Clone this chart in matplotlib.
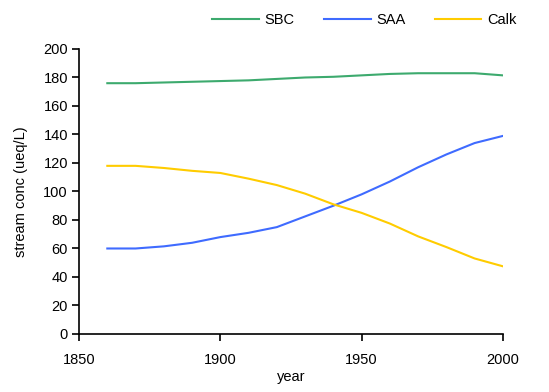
import matplotlib
matplotlib.use("Agg")
import matplotlib.pyplot as plt

years = [1860, 1870, 1880, 1890, 1900, 1910, 1920, 1930, 1940, 1950, 1960, 1970, 1980, 1990, 2000]
sbc = [176, 176, 176.5, 177, 177.5, 178, 179, 180, 180.5, 181.5, 182.5, 183, 183, 183, 181.5]
saa = [60, 60, 61.5, 64, 68, 71, 75, 82.5, 90, 98, 107, 117, 126, 134, 139]
calk = [118, 118, 116.5, 114.5, 113, 109, 104.5, 98.5, 91, 85, 77.5, 68.5, 61, 53, 47.5]

plt.rcParams['font.family'] = ['Liberation Sans', 'DejaVu Sans']

fig = plt.figure(figsize=(5.49, 3.92), dpi=100)
ax = fig.add_axes([0.144, 0.148, 0.772, 0.727])

ax.plot(years, sbc, color='#3DAA6E', lw=1.5, label='SBC')
ax.plot(years, saa, color='#3F6BFF', lw=1.5, label='SAA')
ax.plot(years, calk, color='#FFCC00', lw=1.5, label='Calk')

ax.set_xlim(1850, 2000)
ax.set_ylim(0, 200)
ax.set_xticks([1850, 1900, 1950, 2000])
ax.set_yticks(range(0, 201, 20))
for s in ['top', 'right']:
    ax.spines[s].set_visible(False)
for s in ['left', 'bottom']:
    ax.spines[s].set_linewidth(1.2)
ax.tick_params(direction='out', length=5, width=1.2, labelsize=10.5, pad=3)
ax.tick_params(axis='x', pad=9)
ax.set_xlabel('year', fontsize=10.5, labelpad=2)
ax.set_ylabel('stream conc (ueq/L)', fontsize=10.5, labelpad=11)

fig.legend(loc='upper right', ncol=3, frameon=False, fontsize=10.5,
           bbox_to_anchor=(0.965, 1.0), handlelength=3.2, columnspacing=2.0, handletextpad=0.4)

fig.savefig('out.png', dpi=100)
